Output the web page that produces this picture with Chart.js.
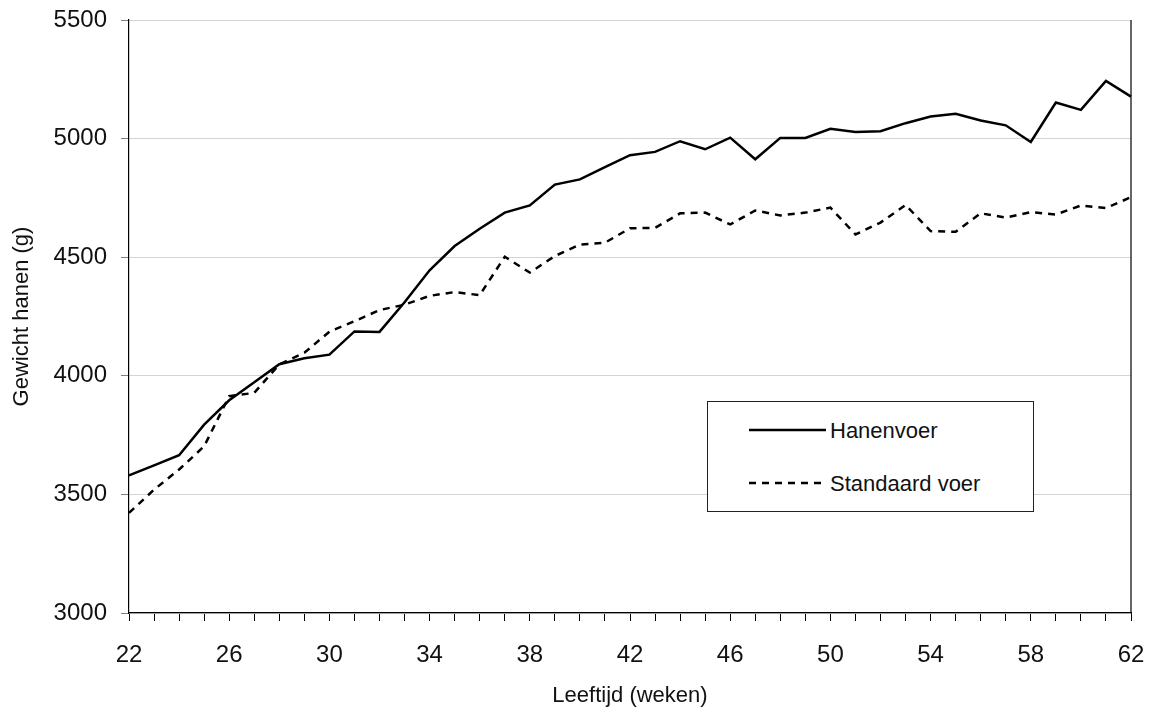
<!DOCTYPE html>
<html>
<head>
<meta charset="utf-8">
<script src="https://cdn.jsdelivr.net/npm/chart.js@4"></script>
<style>
  body { margin: 0; background: #fff; }
  .wrap { position: relative; width: 1149px; height: 712px; }
  .legend { position: absolute; left: 707px; top: 401px; width: 325px; height: 109px;
            border: 1px solid #222; background: #fff; font-family: 'Liberation Sans', Arial, sans-serif;
            font-size: 22px; color: #111; }
  .legend svg { position: absolute; left: 41px; }
  .legend span { position: absolute; left: 122px; height: 24px; line-height: 24px; white-space: nowrap; }
</style>
</head>
<body>
<div class="wrap">
  <canvas id="linechart" width="1149" height="712"></canvas>
  <div class="legend">
    <svg style="top:24px" width="78" height="8"><line x1="0" y1="4" x2="77" y2="4" stroke="#000" stroke-width="2.5"/></svg>
    <span style="top:17px">Hanenvoer</span>
    <svg style="top:77px" width="78" height="8"><line x1="0" y1="4" x2="77" y2="4" stroke="#000" stroke-width="2.5" stroke-dasharray="7 6"/></svg>
    <span style="top:70px">Standaard voer</span>
  </div>
</div>
<script>
// weeks 22 .. 62
const weeks = [22,23,24,25,26,27,28,29,30,31,32,33,34,35,36,37,38,39,40,41,
               42,43,44,45,46,47,48,49,50,51,52,53,54,55,56,57,58,59,60,61,62];

const hanenvoer = [3580,3622,3665,3794,3897,3973,4049,4074,4089,4187,
                   4185,4310,4445,4547,4620,4688,4718,4806,4828,4880,
                   4930,4944,4989,4955,5004,4913,5003,5003,5041,5028,
                   5031,5065,5093,5105,5076,5056,4986,5152,5121,5243,5177];

const standaardVoer = [3422,3520,3605,3703,3914,3928,4048,4097,4186,4230,
                       4277,4300,4337,4353,4340,4502,4435,4505,4553,4561,
                       4622,4624,4685,4688,4638,4697,4676,4688,4709,4596,
                       4646,4720,4610,4607,4685,4667,4690,4680,4718,4707,4753];

const weekLabels = [22,26,30,34,38,42,46,50,54,58,62];
const yTicks = [3000,3500,4000,4500,5000,5500];

const fontFamily = "'Liberation Sans', Arial, sans-serif";

// right border of the plot area
const rightBorder = {
    id: 'rightBorder',
    afterDraw(chart) {
        const a = chart.chartArea;
        const ctx = chart.ctx;
        ctx.save();
        ctx.strokeStyle = '#000';
        ctx.lineWidth = 1.2;
        ctx.beginPath();
        ctx.moveTo(a.right, a.top);
        ctx.lineTo(a.right, a.bottom);
        ctx.stroke();
        ctx.restore();
    }
};

// labels may hang outside the plot, don't let them shrink it
function noLabelPadding(scale) {
    scale.paddingLeft = 0;
    scale.paddingRight = 0;
    scale.paddingTop = 0;
    scale.paddingBottom = 0;
}

const ctxLine = document.getElementById('linechart');

new Chart(ctxLine, {
    type: 'line',
    data: {
        labels: weeks,
        datasets: [
            {
                label: 'Hanenvoer',
                data: hanenvoer,
                borderColor: '#000',
                borderWidth: 2.5,
                pointRadius: 0,
                tension: 0
            },
            {
                label: 'Standaard voer',
                data: standaardVoer,
                borderColor: '#000',
                borderWidth: 2.5,
                borderDash: [7, 6],
                pointRadius: 0,
                tension: 0
            }
        ]
    },
    options: {
        responsive: false,
        animation: false,
        layout: { padding: { top: 20, right: 18, left: 0, bottom: 0 } },
        plugins: {
            legend: { display: false },
            tooltip: { enabled: false }
        },
        scales: {
            x: {
                offset: false,
                grid: { drawOnChartArea: false, tickLength: 8, tickColor: '#000', lineWidth: 1 },
                border: { color: '#000', width: 1.2 },
                ticks: {
                    autoSkip: false,
                    maxRotation: 0,
                    padding: 20,
                    color: '#111',
                    font: { family: fontFamily, size: 24 },
                    callback: function(value) {
                        const w = weeks[value];
                        return weekLabels.includes(w) ? String(w) : '';
                    }
                },
                title: {
                    display: true,
                    text: 'Leeftijd (weken)',
                    color: '#111',
                    font: { family: fontFamily, size: 22 },
                    padding: { top: 0, bottom: 3 }
                },
                afterFit: function(scale) {
                    scale.height = 99;
                    noLabelPadding(scale);
                }
            },
            y: {
                min: 3000,
                max: 5500,
                afterBuildTicks: function(scale) {
                    scale.ticks = yTicks.map(v => ({ value: v }));
                },
                grid: { color: '#d4d4d4', tickColor: '#808080', tickLength: 8, lineWidth: 1 },
                border: { color: '#000', width: 1.2 },
                ticks: {
                    padding: 14,
                    color: '#111',
                    font: { family: fontFamily, size: 24 },
                    callback: function(value) { return String(value); }
                },
                title: {
                    display: true,
                    text: 'Gewicht hanen (g)',
                    color: '#111',
                    font: { family: fontFamily, size: 22 },
                    padding: { top: 9, bottom: 0 }
                },
                afterFit: function(scale) {
                    scale.width = 129;
                    noLabelPadding(scale);
                }
            }
        }
    },
    plugins: [rightBorder]
});
</script>
</body>
</html>
